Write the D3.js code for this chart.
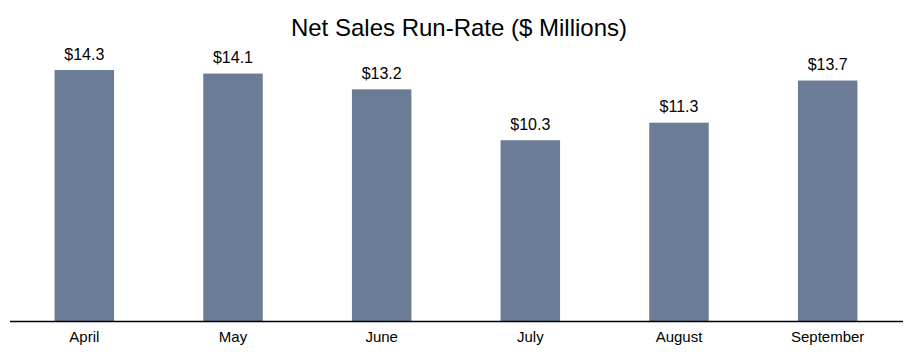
<!DOCTYPE html>
<html>
<head>
<meta charset="utf-8">
<script src="https://cdn.jsdelivr.net/npm/d3@7"></script>
<style>
body{margin:0;background:#fff;}
text{font-family:"Liberation Sans",Arial,sans-serif;}
</style>
</head>
<body>
<svg id="display" width="914" height="363"></svg>
<script>
// chart data
const months=["April","May","June","July","August","September"];
const run_rate=[14.3,14.1,13.2,10.3,11.3,13.7];

const display=d3.select("#display");
const base_y=321.0;

// scales
const x=d3.scaleBand()
    .domain(months)
    .range([10,902])
    .paddingInner(0.6)
    .paddingOuter(0.3);
const y=d3.scaleLinear()
    .domain([0,15])
    .range([base_y,base_y-15*17.55]);

// title
display.append("text")
    .attr("x",459)
    .attr("y",36)
    .style("font-size","24px")
    .style("fill","#000")
    .style("text-anchor","middle")
    .text("Net Sales Run-Rate ($ Millions)");

// bars
display.selectAll("rect.bar")
    .data(months)
    .enter()
    .append("rect")
    .attr("class","bar")
    .attr("x",d=>x(d))
    .attr("y",(d,i)=>y(run_rate[i]))
    .attr("width",x.bandwidth())
    .attr("height",(d,i)=>base_y-y(run_rate[i]))
    .attr("fill","#6b7c97");

// value labels
display.selectAll("text.val")
    .data(months)
    .enter()
    .append("text")
    .attr("class","val")
    .attr("x",d=>x(d)+x.bandwidth()/2)
    .attr("y",(d,i)=>y(run_rate[i])-10.5)
    .style("font-size","16px")
    .style("fill","#000")
    .style("text-anchor","middle")
    .text((d,i)=>"$"+run_rate[i].toFixed(1));

// x axis
const axis=display.append("g")
    .attr("transform","translate(0,"+base_y+")")
    .call(d3.axisBottom(x).tickSize(0).tickPadding(10).tickSizeOuter(0));
axis.select(".domain")
    .attr("d","M10,0.5H903")
    .attr("stroke","#000")
    .attr("stroke-width",1.5);
axis.selectAll("text")
    .style("font-size","15px")
    .style("font-family","'Liberation Sans',Arial,sans-serif")
    .style("fill","#000");
</script>
</body>
</html>
